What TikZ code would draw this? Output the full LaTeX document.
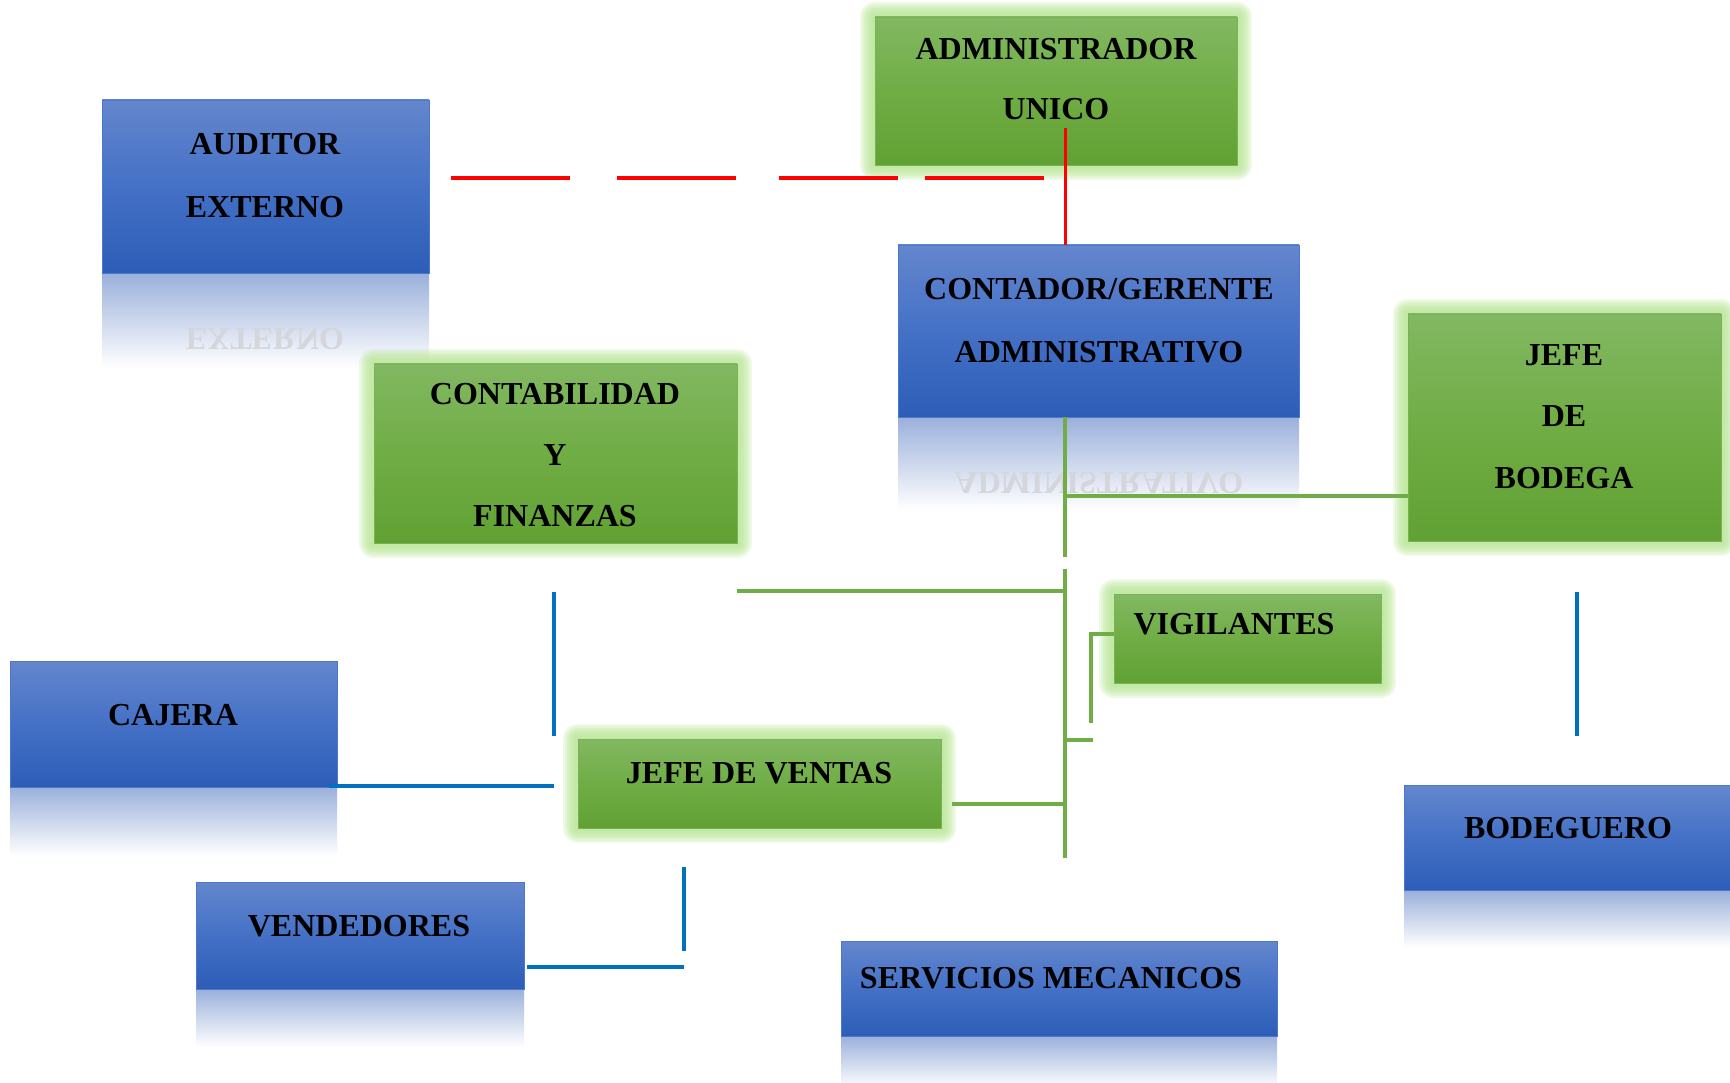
\documentclass[tikz,border=0pt]{standalone}
\usepackage{fontspec}
\setmainfont{Liberation Serif}
\definecolor{bTop}{HTML}{6486CD}
\definecolor{bMid}{HTML}{4471C6}
\definecolor{bBot}{HTML}{2D5DB7}
\definecolor{bEdge}{HTML}{4C78C9}
\definecolor{gTop}{HTML}{82B862}
\definecolor{gMid}{HTML}{70AD45}
\definecolor{gBot}{HTML}{61A133}
\definecolor{gEdge}{HTML}{79B255}
\definecolor{glowC}{HTML}{B8E794}
\definecolor{rTop}{HTML}{9AB0DB}
\definecolor{redC}{HTML}{FF0000}
\definecolor{gLine}{HTML}{70AD47}
\definecolor{bLine}{HTML}{0070C0}
\definecolor{mirC}{HTML}{D4D6DC}
\pgfdeclarelayer{bottom}
\pgfdeclarelayer{background}
\pgfsetlayers{bottom,background,main}
\tikzset{
  boxbase/.style={rectangle, inner sep=0pt, outer sep=0pt, line width=0.8pt},
  bluebox/.style={boxbase, draw=bEdge, top color=bTop, bottom color=bBot, middle color=bMid},
  greenbox/.style={boxbase, draw=gEdge, top color=gTop, bottom color=gBot, middle color=gMid},
  lbl/.style={font=\fontsize{32}{38}\selectfont\bfseries, inner sep=0pt, text height=21pt, text depth=0pt},
  mirr/.style={lbl, yscale=-1, transform shape, text=mirC},
  redl/.style={draw=redC, line width=4pt},
  greenl/.style={draw=gLine, line width=3.5pt},
  bluel/.style={draw=bLine, line width=3.5pt},
  glowline/.style={draw=glowC, line width=#1, opacity=0.22, line join=round},
  refl/.style={top color=rTop, bottom color=white}
}
\begin{document}
\begin{tikzpicture}[x=1pt,y=-1pt]
\useasboundingbox (0,0) rectangle (1730,1083);
\begin{pgfonlayer}{bottom}
\fill[white] (0,0) rectangle (1730,1083);
\end{pgfonlayer}

% boxes
\node[bluebox, minimum width=327pt, minimum height=173pt] (aud) at (265.5,186.5) {};
\node[greenbox, minimum width=362pt, minimum height=148pt] (adm) at (1056,91) {};
\node[bluebox, minimum width=401pt, minimum height=172pt] (con) at (1098.5,331) {};
\node[greenbox, minimum width=313pt, minimum height=227pt] (jbo) at (1564.5,427.5) {};
\node[greenbox, minimum width=363pt, minimum height=179pt] (cyf) at (555.5,453.5) {};
\node[bluebox, minimum width=327pt, minimum height=126pt] (caj) at (173.5,724) {};
\node[greenbox, minimum width=363pt, minimum height=89pt] (jdv) at (759.5,783.5) {};
\node[greenbox, minimum width=267pt, minimum height=89pt] (vig) at (1247.5,638.5) {};
\node[bluebox, minimum width=328pt, minimum height=107pt] (ven) at (360,935.5) {};
\node[bluebox, minimum width=436pt, minimum height=95pt] (ser) at (1059,988.5) {};
\node[bluebox, minimum width=328pt, minimum height=105pt] (bdg) at (1568,838) {};

\begin{pgfonlayer}{background}
  % reflections
  \shade[refl] (aud.south west) rectangle ([yshift=-95pt]aud.south east);
  \shade[refl] (con.south west) rectangle ([yshift=-93pt]con.south east);
  \shade[refl] (caj.south west) rectangle ([yshift=-69pt]caj.south east);
  \shade[refl] (ven.south west) rectangle ([yshift=-58pt]ven.south east);
  \shade[refl] (ser.south west) rectangle ([yshift=-52pt]ser.south east);
  \shade[refl] (bdg.south west) rectangle ([yshift=-57pt]bdg.south east);
  % glows
  \foreach \g in {adm,jbo,cyf,jdv,vig}{
    \foreach \w in {30,26,22,18,14,10,6}{
      \draw[glowline=\w pt] (\g.south west) rectangle (\g.north east);
    }
  }
\end{pgfonlayer}

% mirrored reflections of text
\node[mirr] (audM) at (265,339) {EXTERNO};
\node[mirr] (conM) at (1099,483) {ADMINISTRATIVO};

% red connectors
\coordinate (rdA) at (451,178);
\coordinate (rdB) at (1044,178);
\draw[redl, dash pattern=on 119pt off 47pt on 119pt off 43pt on 119pt off 27pt on 119pt] (rdA) -- (rdB);
\coordinate (rvA) at (1065,128);
\draw[redl, line width=3pt] (rvA) -- (rvA |- con.north);

% green connectors
\coordinate (gA) at (1065,417);
\coordinate (gB) at (1065,557);
\coordinate (gC) at (1065,569);
\coordinate (gD) at (1065,858);
\draw[greenl] (gA) -- (gB);
\draw[greenl] (gC) -- (gD);
\coordinate (gE) at (1063.25,496);
\draw[greenl] (gE) -- (gE -| jbo.west);
\coordinate (gF) at (1066.75,591);
\draw[greenl] (gF) -- (gF -| cyf.east);
\coordinate (gG) at (1066.75,804);
\coordinate (gH) at (952,804);
\draw[greenl] (gH) -- (gG);
\coordinate (gI) at (1091,634);
\coordinate (gJ) at (1091,723);
\draw[greenl] (gI -| vig.west) -- (gI) -- (gJ);
\coordinate (gK) at (1063.25,740);
\coordinate (gL) at (1092.75,740);
\draw[greenl] (gK) -- (gL);

% blue connectors
\coordinate (bA) at (554,591.5);
\coordinate (bB) at (554,736);
\draw[bluel] (bA) -- (bB);
\coordinate (bC) at (329,786);
\draw[bluel] (bC) -- (bC -| bB);
\coordinate (bD) at (684,867);
\coordinate (bE) at (684,951);
\draw[bluel] (bD) -- (bE);
\coordinate (bF) at (527,967);
\draw[bluel] (bF) -- (bF -| bE);
\coordinate (bG) at (1577,591.5);
\coordinate (bH) at (1577,736);
\draw[bluel] (bG) -- (bH);

% labels
\node[lbl] (audT1) at (265,144) {AUDITOR};
\node[lbl] (audT2) at (265,207) {EXTERNO};
\node[lbl] (admT1) at (1056,49) {ADMINISTRADOR};
\node[lbl] (admT2) at (1056,109) {UNICO};
\node[lbl] (conT1) at (1099,289) {CONTADOR/GERENTE};
\node[lbl] (conT2) at (1099,352) {ADMINISTRATIVO};
\node[lbl] (jboT1) at (1564,355) {JEFE};
\node[lbl] (jboT2) at (1564,416) {DE};
\node[lbl] (jboT3) at (1564,478) {BODEGA};
\node[lbl] (cyfT1) at (555,394) {CONTABILIDAD};
\node[lbl] (cyfT2) at (555,455) {Y};
\node[lbl] (cyfT3) at (555,516) {FINANZAS};
\node[lbl] (cajT) at (173,715) {CAJERA};
\node[lbl] (jdvT) at (759,773) {JEFE DE VENTAS};
\node[lbl] (vigT) at (1234,624) {VIGILANTES};
\node[lbl] (venT) at (359,926) {VENDEDORES};
\node[lbl] (serT) at (1051,978) {SERVICIOS MECANICOS};
\node[lbl] (bdgT) at (1568,828) {BODEGUERO};
\end{tikzpicture}
\end{document}
